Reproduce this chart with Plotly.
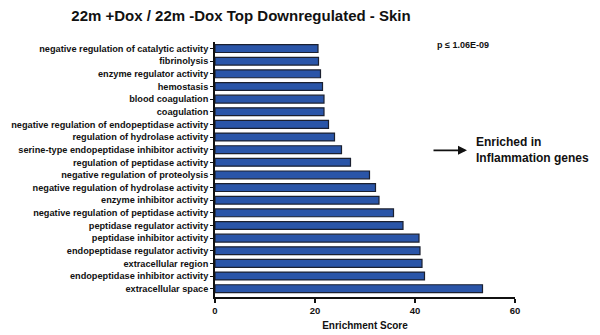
import plotly.graph_objects as go

categories = [
    "negative regulation of catalytic activity",
    "fibrinolysis",
    "enzyme regulator activity",
    "hemostasis",
    "blood coagulation",
    "coagulation",
    "negative regulation of endopeptidase activity",
    "regulation of hydrolase activity",
    "serine-type endopeptidase inhibitor activity",
    "regulation of peptidase activity",
    "negative regulation of proteolysis",
    "negative regulation of hydrolase activity",
    "enzyme inhibitor activity",
    "negative regulation of peptidase activity",
    "peptidase regulator activity",
    "peptidase inhibitor activity",
    "endopeptidase regulator activity",
    "extracellular region",
    "endopeptidase inhibitor activity",
    "extracellular space",
]
scores = [20.6, 20.7, 21.1, 21.5, 21.8, 21.8, 22.7, 23.9, 25.3, 27.1,
          30.9, 32.1, 32.8, 35.7, 37.6, 40.8, 41.0, 41.4, 41.9, 53.5]
x_ticks = [0, 20, 40, 60]

# bottom-to-top order for plotly
cats_bt = categories[::-1]
scores_bt = scores[::-1]

FONT = "Liberation Sans, Arial, sans-serif"

fig = go.Figure(go.Bar(
    x=scores_bt, y=cats_bt, orientation="h",
    width=0.62,
    marker=dict(color="#2a55a8", line=dict(color="#1b2030", width=1.2)),
))

fig.update_layout(
    width=600, height=335,
    margin=dict(l=215, r=85, t=42, b=38, autoexpand=False),
    paper_bgcolor="white", plot_bgcolor="white",
    showlegend=False,
    title=dict(text="<b>22m +Dox / 22m -Dox Top Downregulated - Skin</b>",
               x=241/600, xanchor="center", y=1 - 16/335, yanchor="middle",
               font=dict(family=FONT, size=15, color="#111")),
    xaxis=dict(range=[0, 60], tickvals=x_ticks, ticks="outside", ticklen=4,
               tickwidth=1.5, tickcolor="#111", showline=True, linecolor="#111",
               linewidth=1.8, showgrid=False, zeroline=False, automargin=False,
               tickfont=dict(family=FONT, size=9.5, color="#111"),
               title=dict(text="<b>Enrichment Score</b>", standoff=7,
                          font=dict(family=FONT, size=10, color="#111"))),
    yaxis=dict(type="category", range=[-0.66, 19.52], ticks="outside", ticklen=3,
               tickwidth=1.2, tickcolor="#111", showline=True, linecolor="#111",
               linewidth=1.8, showgrid=False, zeroline=False, automargin=False,
               tickfont=dict(family=FONT, size=9.2, color="#111")),
    bargap=0.38,
)
fig.update_yaxes(tickvals=cats_bt, ticktext=["<b>%s</b>" % c for c in cats_bt])
fig.update_xaxes(ticktext=["<b>%d</b>" % t for t in x_ticks])

fig.add_annotation(x=44.0, y=19.25, xref="x", yref="y", text="<b>p ≤ 1.06E-09</b>",
                   showarrow=False, xanchor="left", yanchor="middle",
                   font=dict(family=FONT, size=9, color="#111"))
fig.add_annotation(x=50.4, y=10.95, ax=43.4, ay=10.95, xref="x", yref="y",
                   axref="x", ayref="y", text="", showarrow=True, arrowhead=2,
                   arrowsize=1, arrowwidth=1.8, arrowcolor="#111")
fig.add_annotation(x=51.8, y=10.95, xref="x", yref="y",
                   text="<b>Enriched in<br>Inflammation genes</b>",
                   showarrow=False, xanchor="left", yanchor="middle", align="left",
                   font=dict(family=FONT, size=12, color="#111"))

fig.write_html("out.html")
